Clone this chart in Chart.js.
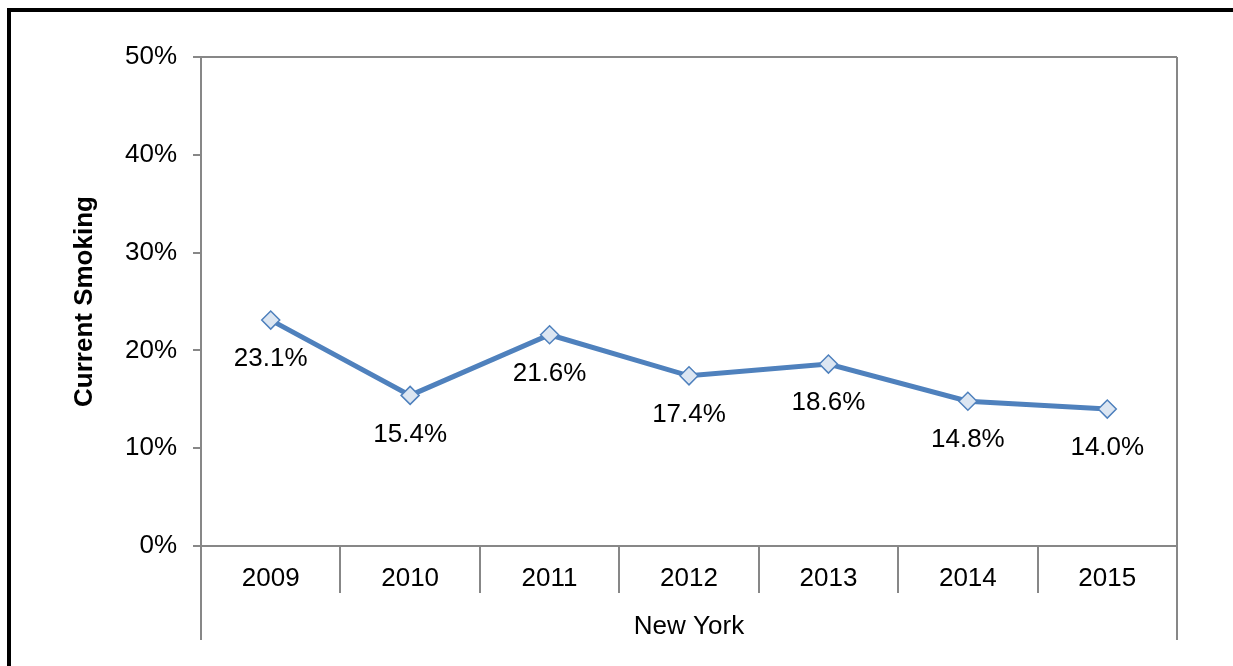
<!DOCTYPE html>
<html>
<head>
<meta charset="utf-8">
<script src="https://cdn.jsdelivr.net/npm/chart.js@4.4.1/dist/chart.umd.min.js"></script>
<style>
  html, body { margin: 0; padding: 0; background: #fff; }
  #wrap { width: 1233px; height: 666px; }
</style>
</head>
<body>
<div id="wrap"><canvas id="grafico" width="1233" height="666"></canvas></div>
<script>
const anos = ['2009', '2010', '2011', '2012', '2013', '2014', '2015'];
const fumantes = [23.1, 15.4, 21.6, 17.4, 18.6, 14.8, 14.0];
const rotulos = ['23.1%', '15.4%', '21.6%', '17.4%', '18.6%', '14.8%', '14.0%'];
const grupo = 'New York';

const cinza = '#878787';
const fonte = "'Liberation Sans', Arial, sans-serif";

// moldura preta, borda da area do grafico e separadores das categorias
const moldura = {
  id: 'moldura',
  beforeDraw(chart) {
    const c = chart.ctx;
    c.save();
    c.fillStyle = '#000';
    c.fillRect(7, 8, 1226, 4);
    c.fillRect(7, 8, 4, 658);
    c.restore();
  },
  afterDraw(chart) {
    const c = chart.ctx;
    const a = chart.chartArea;
    const x = chart.scales.x;
    c.save();
    c.strokeStyle = cinza;
    c.lineWidth = 2;
    c.beginPath();
    c.moveTo(a.left, a.top);
    c.lineTo(a.right, a.top);
    c.moveTo(a.right, a.top);
    c.lineTo(a.right, 640);
    c.moveTo(a.left, a.bottom);
    c.lineTo(a.left, 640);
    for (let i = 1; i < anos.length; i++) {
      const px = Math.round((x.getPixelForValue(i - 1) + x.getPixelForValue(i)) / 2);
      c.moveTo(px, a.bottom);
      c.lineTo(px, a.bottom + 47);
    }
    c.stroke();
    c.restore();
  },
  afterDatasetsDraw(chart) {
    const c = chart.ctx;
    const meta = chart.getDatasetMeta(0);
    c.save();
    c.fillStyle = '#000';
    c.font = '26px ' + fonte;
    c.textAlign = 'center';
    c.textBaseline = 'middle';
    meta.data.forEach((p, i) => {
      c.fillText(rotulos[i], p.x, p.y + 39);
    });
    c.restore();
  }
};

const ctx = document.getElementById('grafico').getContext('2d');
const meuGrafico = new Chart(ctx, {
  type: 'line',
  data: {
    labels: anos,
    datasets: [{
      label: 'Current Smoking',
      data: fumantes,
      borderColor: '#4F81BD',
      borderWidth: 5,
      backgroundColor: '#DCE6F2',
      pointStyle: 'rectRot',
      pointRadius: 9,
      pointHoverRadius: 9,
      pointBorderWidth: 1.5,
      pointBorderColor: '#4F81BD',
      pointBackgroundColor: '#DCE6F2',
      fill: false,
      tension: 0
    }]
  },
  options: {
    responsive: false,
    animation: false,
    layout: { padding: { left: 12, right: 56, top: 57, bottom: 0 } },
    plugins: {
      legend: { display: false },
      tooltip: { enabled: false }
    },
    scales: {
      x: {
        offset: true,
        grid: { display: false, drawTicks: false, tickLength: 0 },
        border: { display: true, color: cinza, width: 2 },
        ticks: { color: '#000', padding: 17, font: { family: fonte, size: 26 } },
        title: {
          display: true,
          text: grupo,
          color: '#000',
          font: { family: fonte, size: 26 },
          padding: { top: 0, bottom: 24 }
        },
        afterFit(s) { s.height = 120; }
      },
      y: {
        min: 0,
        max: 50,
        grid: { drawOnChartArea: false, drawTicks: true, tickLength: 8, color: cinza, lineWidth: 2 },
        border: { display: true, color: cinza, width: 2 },
        ticks: {
          stepSize: 10,
          color: '#000',
          padding: 16,
          font: { family: fonte, size: 26 },
          callback: v => v + '%'
        },
        title: {
          display: true,
          text: 'Current Smoking',
          color: '#000',
          font: { family: fonte, size: 26, weight: 'bold' },
          padding: { top: 57, bottom: 0 }
        },
        afterFit(s) { s.width = 189; }
      }
    }
  },
  plugins: [moldura]
});
</script>
</body>
</html>
